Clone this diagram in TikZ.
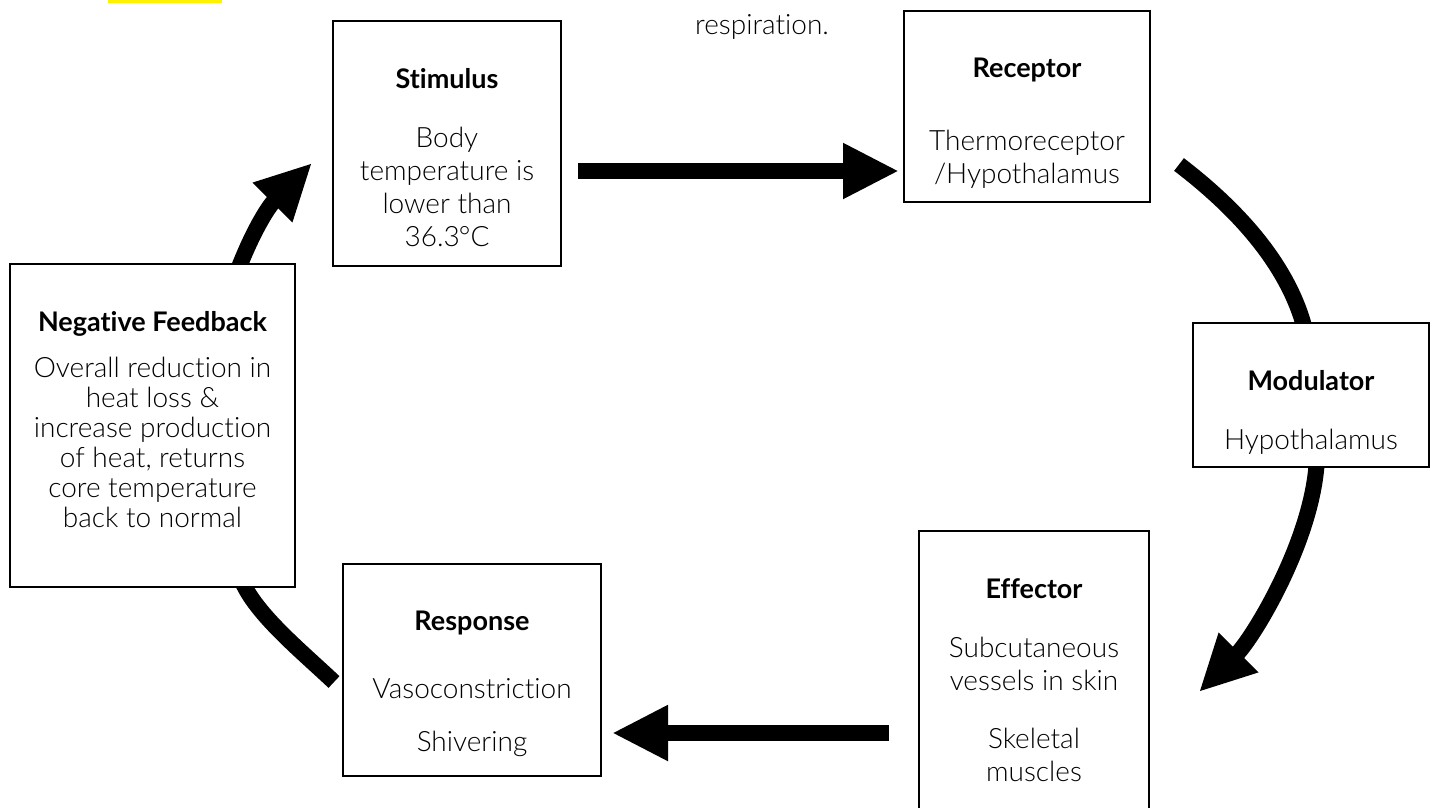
\documentclass[tikz,border=0pt]{standalone}
\usepackage{fontspec}
\IfFontExistsTF{Lato Light}
  {\setmainfont{Lato Light}[BoldFont={Lato Bold}, Ligatures=NoCommon]}
  {\setmainfont{Liberation Sans}}
\usetikzlibrary{positioning,arrows.meta,backgrounds}

\newcommand{\boxtitle}[1]{{\fontsize{27}{33}\selectfont\bfseries #1}}

\begin{document}
\begin{tikzpicture}[x=1pt, y=-1pt,
    box/.style={draw, line width=2pt, fill=white, inner sep=0pt},
    txt/.style={align=center, inner sep=0pt, font=\fontsize{28}{33}\selectfont},
    trail/.style={line width=16pt},
    flow/.style={trail, -{Triangle[length=56pt, width=52pt]}}]
    \useasboundingbox (0,0) rectangle (1431,807);
    \clip (0,0) rectangle (1431,807);

    % what is left of the page above
    \fill[yellow] (108,0) rectangle (222,3);
    \node[txt] (resp_note) at (762,27) {respiration.};

    % boxes of the loop
    \node[box, minimum width=228pt, minimum height=245pt] (stim) at (447,143.5) {};
    \node[box, minimum width=246pt, minimum height=191pt] (rec) at (1027,106.5) {};
    \node[box, minimum width=236pt, minimum height=144pt] (mod) at (1311,395) {};
    \node[box, minimum width=230pt, minimum height=299pt] (eff) at (1034,680.5) {};
    \node[box, minimum width=258pt, minimum height=212pt] (resp) at (472,670) {};
    \node[box, minimum width=285pt, minimum height=323pt] (negfb) at (152.5,425.5) {};

    \node[txt, below=48pt of stim.north] (stim_txt)
        {\boxtitle{Stimulus}\\[26pt] Body\\ temperature is\\ lower than\\ 36.3\kern-1pt°C};
    \node[txt, below=48pt of rec.north] (rec_txt)
        {\boxtitle{Receptor}\\[40pt] Thermoreceptor\\ /Hypothalamus};
    \node[txt, below=48pt of mod.north] (mod_txt)
        {\boxtitle{Modulator}\\[26pt] Hypothalamus};
    \node[txt, below=48pt of eff.north] (eff_txt)
        {\boxtitle{Effector}\\[26pt] Subcutaneous\\ vessels in skin\\[25pt] Skeletal\\ muscles};
    \node[txt, below=48pt of resp.north] (resp_txt)
        {\boxtitle{Response}\\[35pt] Vasoconstriction\\[20pt] Shivering};
    \node[txt, below=48pt of negfb.north, font=\fontsize{28}{30}\selectfont] (negfb_txt)
        {\boxtitle{Negative Feedback}\\[16pt] Overall reduction in\\ heat loss \&\\
         increase production\\ of heat, returns\\ core temperature\\ back to normal};

    % the arrows run behind the boxes
    \begin{scope}[on background layer]
        \draw[flow] ([xshift=16pt, yshift=-27.5pt]stim.east) -- ([xshift=-4pt, yshift=-64.5pt]rec.west);
        \draw[trail] ([xshift=28pt, yshift=-58pt]rec.east)
            .. controls +(55,42) and +(-16,-70) .. ([xshift=-5pt, yshift=-12pt]mod.north);
        \draw[flow] ([xshift=6pt, yshift=12pt]mod.south)
            .. controls +(-2,80) and +(55,-55) .. ([xshift=49pt, yshift=-11.5pt]eff.east);
        \draw[flow] ([xshift=-29pt, yshift=-52.5pt]eff.west) -- ([xshift=10pt, yshift=-63pt]resp.east);
        \draw[trail] ([xshift=-8pt, yshift=-12pt]resp.west)
            .. controls +(-35,-33) and +(12,35) .. ([xshift=87.5pt, yshift=12pt]negfb.south);
        \draw[flow] ([xshift=83.5pt, yshift=-12pt]negfb.north)
            .. controls +(15,-40) and +(-45,45) .. ([xshift=-20pt, yshift=-19.5pt]stim.west);
    \end{scope}
\end{tikzpicture}
\end{document}
